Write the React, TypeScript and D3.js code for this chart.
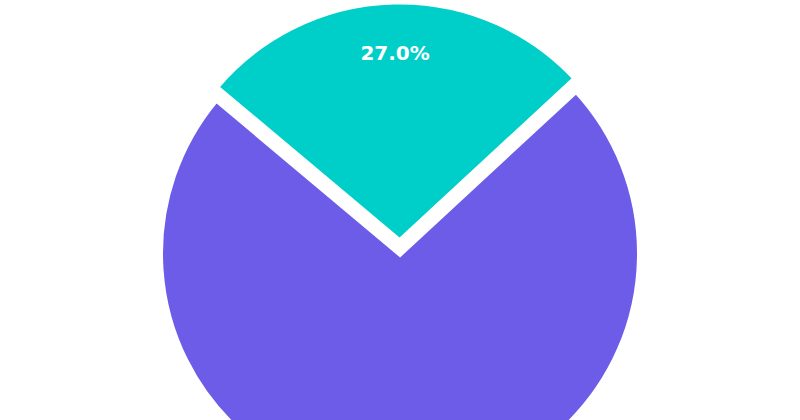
import * as d3 from "d3";

// two slices, teal first, drawn clockwise from startAngle
const categories = ["Teal", "Purple"];
const shares = [27.0, 73.0];
const colors = ["#00cec9", "#6c5ce7"];
const explode = [0.05, 0];

const width = 800;
const height = 420;
const cx = 400;
const cy = 253.5;
const radius = 240;
const startDeg = -50; // 140° matplotlib-style start, clockwise
const pctDistance = 0.785;

const App = () => {
  const pie = d3
    .pie<number>()
    .sort(null)
    .value((d) => d)
    .startAngle((startDeg * Math.PI) / 180)
    .endAngle((startDeg * Math.PI) / 180 + 2 * Math.PI);

  const arcs = pie(shares);
  const total = d3.sum(shares);

  const arc = d3.arc<d3.PieArcDatum<number>>().innerRadius(0).outerRadius(radius);

  return (
    <svg
      width={width}
      height={height}
      style={{ position: "absolute", left: 0, top: 0, background: "#fff" }}
    >
      <g transform={`translate(${cx},${cy})`}>
        {arcs.map((a, i) => {
          const mid = (a.startAngle + a.endAngle) / 2;
          const off = explode[i] * radius;
          const dx = Math.sin(mid) * off;
          const dy = -Math.cos(mid) * off;
          const lr = pctDistance * radius;
          const lx = Math.sin(mid) * lr;
          const ly = -Math.cos(mid) * lr;
          // the label of the big slice falls below the frame, like the reference
          const inFrame = cy + dy + ly < height - 10;
          return (
            <g key={categories[i]} transform={`translate(${dx},${dy})`}>
              <path
                d={arc(a) || ""}
                fill={colors[i]}
                stroke="#fff"
                strokeWidth={6}
                strokeLinejoin="miter"
              />
              {inFrame && (
                <text
                  x={lx}
                  y={ly}
                  dy="0.36em"
                  textAnchor="middle"
                  fill="#fff"
                  fontFamily="DejaVu Sans"
                  fontWeight="bold"
                  fontSize={20}
                >
                  {`${((a.data / total) * 100).toFixed(1)}%`}
                </text>
              )}
            </g>
          );
        })}
      </g>
    </svg>
  );
};

export default App;
